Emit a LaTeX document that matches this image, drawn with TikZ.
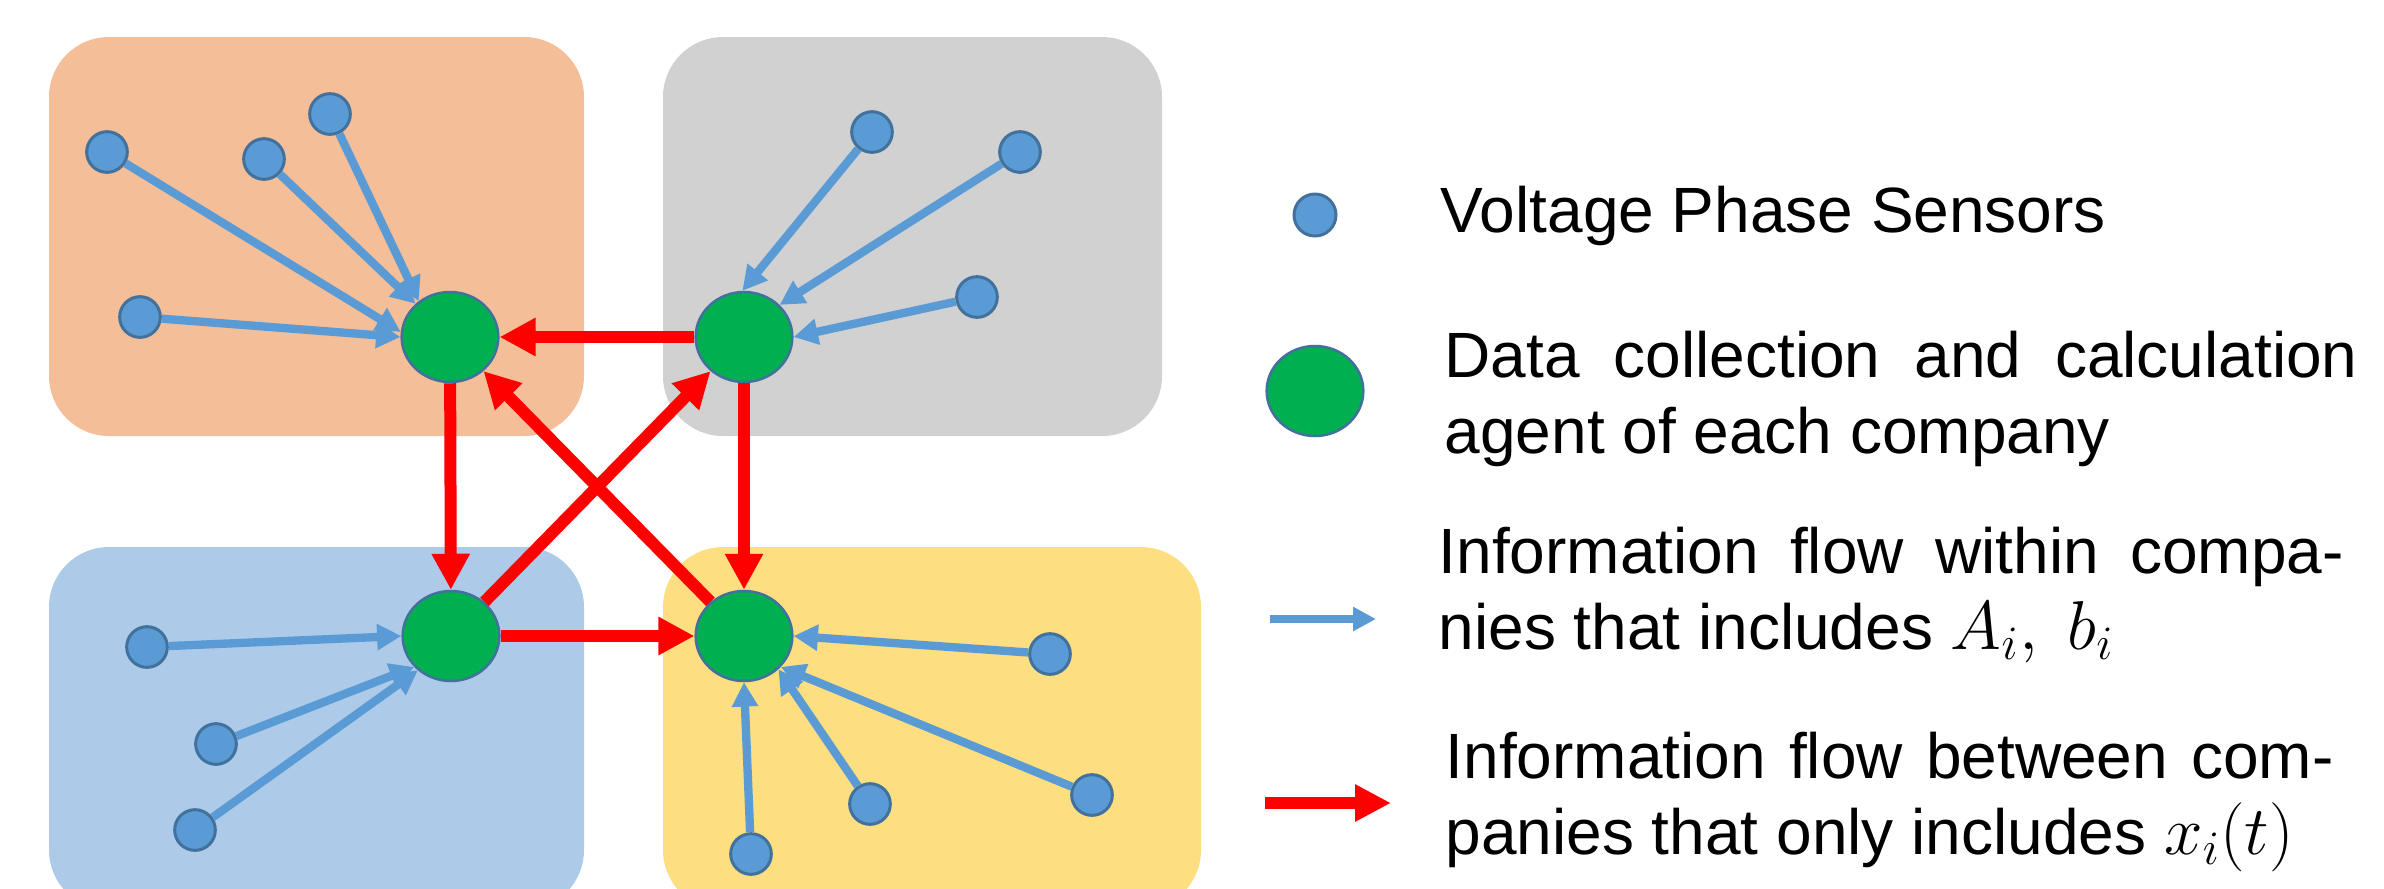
\documentclass[tikz,border=0pt]{standalone}
\usepackage{fontspec}
\setmainfont{Liberation Sans}
\usetikzlibrary{arrows.meta,shapes.geometric}
\definecolor{orangebox}{HTML}{F4BE98}
\definecolor{graybox}{HTML}{D1D1D1}
\definecolor{bluebox}{HTML}{ADCBE8}
\definecolor{yellowbox}{HTML}{FDDE80}
\definecolor{sensorblue}{HTML}{5B9BD5}
\definecolor{outlineblue}{HTML}{41719C}
\definecolor{agentgreen}{HTML}{00B050}
\definecolor{flowred}{HTML}{FF0000}
\begin{document}
\begin{tikzpicture}[x=0.3pt,y=-0.3pt,
  company/.style={rounded corners=18pt},
  sensor/.style={circle,minimum size=12.2pt,inner sep=0pt,fill=sensorblue,draw=outlineblue,line width=0.9pt},
  agent/.style={ellipse,minimum width=29pt,minimum height=27pt,inner sep=0pt,fill=agentgreen,draw=outlineblue,line width=0.75pt},
  bluearrow/.style={draw=sensorblue,line width=2.5pt,-{Triangle[length=7.3pt,width=7.5pt]}},
  redarrow/.style={draw=flowred,line width=3.6pt,-{Triangle[length=10.8pt,width=10.8pt]}},
  legblue/.style={draw=sensorblue,line width=2.5pt,-{Triangle[length=6.9pt,width=6.9pt]}},
  legred/.style={draw=flowred,line width=3.6pt,-{Triangle[length=10.8pt,width=10.5pt]}},
  txt/.style={anchor=base west,inner sep=0pt,font=\fontsize{19.2pt}{22.8pt}\selectfont}]
\useasboundingbox (0,0) rectangle (2384,888);
\begin{scope}
\clip (0,0) rectangle (2384,888);
\fill[orangebox,company] (49,37) rectangle (584,436);
\fill[graybox,company] (663,37) rectangle (1162,436);
\fill[bluebox,company] (49,547) rectangle (584,910);
\fill[yellowbox,company] (663,547) rectangle (1201,910);
\end{scope}

% agents
\node[agent] (tl) at (450,337) {};
\node[agent] (tr) at (744,337) {};
\node[agent] (bl) at (451,636) {};
\node[agent] (br) at (744,636) {};

% sensors top-left
\node[sensor] (tl1) at (107,152) {};
\node[sensor] (tl2) at (264,159) {};
\node[sensor] (tl3) at (330,114) {};
\node[sensor] (tl4) at (140,317) {};
% sensors top-right
\node[sensor] (tr1) at (872,132) {};
\node[sensor] (tr2) at (1020,152) {};
\node[sensor] (tr3) at (977,297) {};
% sensors bottom-left
\node[sensor] (bl1) at (147,647) {};
\node[sensor] (bl2) at (216,744) {};
\node[sensor] (bl3) at (195,830) {};
% sensors bottom-right
\node[sensor] (br1) at (1050,654) {};
\node[sensor] (br2) at (1092,795) {};
\node[sensor] (br3) at (870,804) {};
\node[sensor] (br4) at (751,854) {};

% flows within companies
\draw[bluearrow] (tl1) -- (tl.174);
\draw[bluearrow] (tl2) -- (tl.136);
\draw[bluearrow] (tl3) -- (tl.131);
\draw[bluearrow] (tl4) -- (tl.west);
\draw[bluearrow] (tr1) -- (tr.92);
\draw[bluearrow] (tr2) -- (tr.42);
\draw[bluearrow] (tr3) -- (tr.east);
\draw[bluearrow] (bl1) -- (bl.west);
\draw[bluearrow] (bl2) -- (bl.220);
\draw[bluearrow] (bl3) -- (bl.226);
\draw[bluearrow] (br1) -- (br.east);
\draw[bluearrow] (br2) -- (br.-40);
\draw[bluearrow] (br3) -- (br.-44);
\draw[bluearrow] (br4) -- (br.south);

% flows between companies
\draw[redarrow] (tr) -- (tl);
\draw[redarrow] (tl) -- (bl);
\draw[redarrow] (tr) -- (br);
\draw[redarrow] (bl) -- (br);
\draw[redarrow] (bl) -- (tr);
\draw[redarrow] (br) -- (tl);

% legend
\node[sensor,minimum size=12.6pt] (lsensor) at (1315,215) {};
\node[agent] (lagent) at (1315,391) {};
\coordinate (lb1) at (1270,619);
\coordinate (lb2) at (1376,619);
\draw[legblue] (lb1) -- (lb2);
\coordinate (lr1) at (1265,803);
\coordinate (lr2) at (1391,803);
\draw[legred] (lr1) -- (lr2);

\node[txt] (t1) at (1440,232) {Voltage Phase Sensors};
\node[txt] (t2a) at (1444,377) {\makebox[273.9pt][s]{Data collection and calculation}};
\node[txt] (t2b) at (1444,453) {agent of each company};
\node[txt] (t3a) at (1438,573) {\makebox[271.5pt][s]{Information flow within compa-}};
\node[txt] (t3b) at (1438,649) {nies that includes $A_i,\ b_i$};
\node[txt] (t4a) at (1445,778) {\makebox[266.4pt][s]{Information flow between com-}};
\node[txt] (t4b) at (1445,854) {panies that only includes $x_i(t)$};
\end{tikzpicture}
\end{document}
